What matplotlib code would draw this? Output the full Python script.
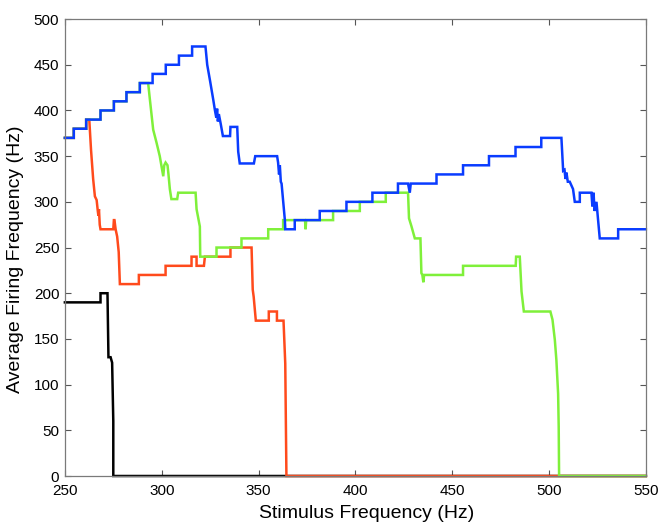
import matplotlib
matplotlib.use("Agg")
import matplotlib.pyplot as plt

# Firing-rate response curves (Hz) versus stimulus frequency (Hz)
black_freq = [250, 268.4, 268.4, 272, 272.5, 273.6, 274.4, 275, 275, 550]
black_rate = [190, 190, 200, 200, 130, 130, 124, 60, 0, 0]

red_freq = [250, 254.6, 254.6, 261, 261, 262.6, 263.5, 264.6, 265.5, 266.4, 267, 267.3,
            267.6, 268, 268.4, 275, 275.3, 275.6, 276.2, 277, 277.8, 278.4, 288.2, 288.2,
            302, 302, 315.4, 315.4, 318, 318, 321.8, 322.3, 335.5, 335.5, 346.4, 347,
            347.5, 348.6, 355.3, 355.3, 359.5, 359.5, 362.9, 363.8, 364.4, 550]
red_rate = [370, 370, 380, 380, 390, 390, 357, 325, 306, 302, 290, 285,
            292, 275, 270, 270, 280, 280, 270, 262, 245, 210, 210, 220,
            220, 230, 230, 240, 240, 230, 230, 240, 240, 250, 250, 204,
            196, 170, 170, 180, 180, 170, 170, 123, 0, 0]

green_freq = [250, 254.6, 254.6, 261, 261, 268.4, 268.4, 275.3, 275.3, 281.8, 281.8,
              288.7, 288.7, 293, 293.9, 295.6, 297.3, 299, 299.9, 300.8, 301.3, 302,
              303, 303.5, 304.2, 305, 308, 308.5, 317.5, 318, 319.7, 319.9, 328.3,
              328.3, 341.2, 341.2, 355, 355, 362.7, 362.7, 374, 374.3, 374.6, 388.5,
              388.5, 402.3, 402.3, 415.7, 415.7, 427.2, 427.7, 429, 430.7, 433.6,
              434.1, 434.6, 435.1, 435.5, 455.6, 455.6, 482.8, 483, 484.9, 485.8,
              487, 500.7, 501.8, 503, 503.8, 504.7, 505, 505.2, 550]
green_rate = [370, 370, 380, 380, 390, 390, 400, 400, 410, 410, 420,
              420, 430, 430, 412, 379, 365, 350, 339, 328, 340, 343,
              340, 330, 314, 303, 303, 310, 310, 292, 273, 240, 240,
              250, 250, 260, 260, 270, 270, 280, 280, 270, 280, 280,
              290, 290, 300, 300, 310, 310, 282, 273, 260, 260,
              222, 220, 212, 220, 220, 230, 230, 240, 240, 202,
              180, 180, 171, 149, 127, 90, 54, 0, 0]

blue_freq = [250, 254.6, 254.6, 261, 261, 268.4, 268.4, 275.3, 275.3, 281.8, 281.8,
             288.7, 288.7, 295.3, 295.3, 302.1, 302.1, 308.9, 308.9, 315.7, 315.7,
             322.6, 323.5, 325, 326.6, 327.5, 328.2, 328.6, 329, 329.5, 330.5, 331.6,
             335.3, 335.5, 339, 339.5, 340.3, 347.6, 348.3, 359.6, 360.1, 360.6, 361,
             361.5, 361.9, 363.6, 363.8, 368.7, 368.7, 381.6, 381.6, 395.4, 395.4,
             408.8, 408.8, 422, 422, 427.2, 428.1, 428.6, 441.9, 441.9, 455.6, 455.6,
             469, 469, 482.7, 482.7, 496, 496, 506.4, 507.3, 508, 508.5, 509, 509.7,
             510.7, 512.4, 513.3, 515.9, 515.9, 521.9, 522.4, 523, 523.5, 524.5,
             525.3, 526.2, 535.7, 535.7, 550]
blue_rate = [370, 370, 380, 380, 390, 390, 400, 400, 410, 410, 420,
             420, 430, 430, 440, 440, 450, 450, 460, 460, 470,
             470, 450, 432, 412, 400, 392, 402, 388, 396, 385, 372,
             372, 382, 382, 355, 342, 342, 350, 350, 343, 330, 340,
             322, 320, 280, 270, 270, 280, 280, 290, 290, 300,
             300, 310, 310, 320, 320, 310, 320, 320, 330, 330, 340,
             340, 350, 350, 360, 360, 370, 370, 334, 335, 325, 332, 322,
             322, 314, 300, 300, 310, 310, 295, 310, 290, 300,
             281, 260, 260, 270, 270]

series = [
    (black_freq, black_rate, "#000000"),
    (red_freq, red_rate, "#ff4a1c"),
    (green_freq, green_rate, "#7ff03a"),
    (blue_freq, blue_rate, "#0a3cff"),
]

plt.rcParams["font.family"] = ["Liberation Sans", "DejaVu Sans"]

fig = plt.figure(figsize=(6.62, 5.24), dpi=100)
ax = fig.add_axes([0.098, 0.0916, 0.8776, 0.872])

for fx, fy, col in series:
    ax.plot(fx, fy, color=col, lw=1.8, solid_joinstyle="miter", clip_on=False)

ax.set_xlim(250, 550)
ax.set_ylim(0, 500)
ax.set_xticks(range(250, 551, 50))
ax.set_yticks(range(0, 501, 50))
ax.tick_params(direction="in", length=4, width=0.8, color="#555555",
               labelsize=11, top=True, right=True)
ax.tick_params(axis="x", pad=5.5)
ax.tick_params(axis="y", pad=4)
for s in ax.spines.values():
    s.set_color("#7a7a7a")
    s.set_linewidth(0.9)

ax.set_xlabel("Stimulus Frequency (Hz)", fontsize=14)
ax.set_ylabel("Average Firing Frequency (Hz)", fontsize=14)
ax.xaxis.set_label_coords(0.52, -0.063)
ax.yaxis.set_label_coords(-0.0705, 0.475)

fig.savefig("out.png", dpi=100, facecolor="white")
